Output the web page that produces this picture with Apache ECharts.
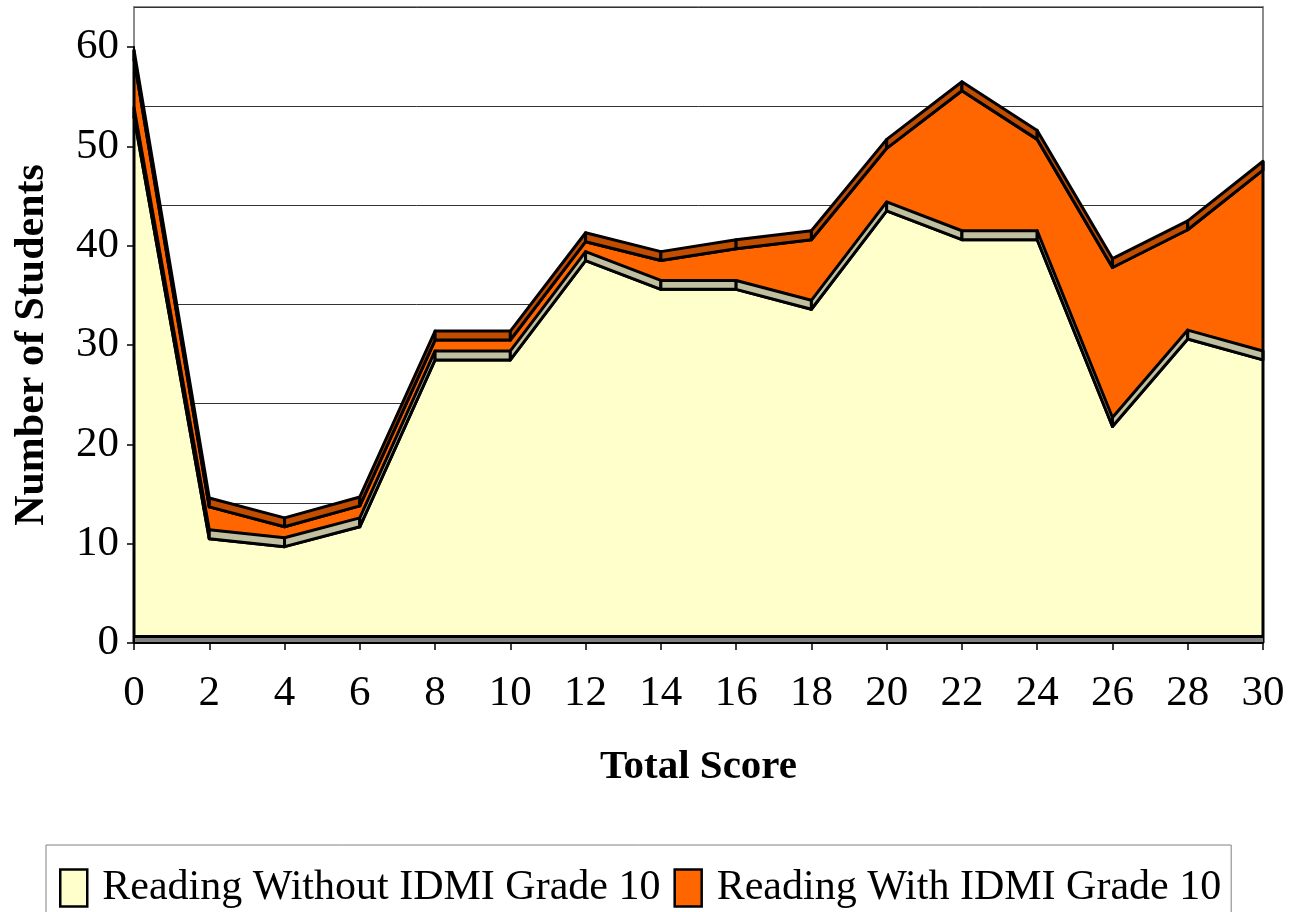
<!DOCTYPE html>
<html><head><meta charset="utf-8">
<script src="https://cdn.jsdelivr.net/npm/echarts@6/dist/echarts.min.js"></script>
<style>html,body{margin:0;padding:0;background:#fff}#c{width:1291px;height:912px}</style>
</head><body><div id="c"></div>
<script>
// ---- data ----
const scores = [0, 2, 4, 6, 8, 10, 12, 14, 16, 18, 20, 22, 24, 26, 28, 30];
const withoutIDMI = [53.0, 10.5, 9.7, 11.7, 28.5, 28.5, 38.5, 35.6, 35.6, 33.6, 43.5, 40.6, 40.6, 21.8, 30.6, 28.5];
const withIDMI = [4.9, 2.3, 1.1, 1.2, 1.1, 1.1, 1.0, 2.0, 3.2, 6.1, 5.4, 14.1, 9.2, 15.1, 10.1, 18.2];
const yTicks = [0, 10, 20, 30, 40, 50, 60];
const xTicks = [0, 2, 4, 6, 8, 10, 12, 14, 16, 18, 20, 22, 24, 26, 28, 30];
const seriesNames = ['Reading Without IDMI Grade 10', 'Reading With IDMI Grade 10'];

// ---- styling constants (3D look) ----
const DEPTH = 0.9;   // thickness of the top surface band
const FLOOR = 0.7;   // floor thickness
const FONT = "'Liberation Serif', 'Times New Roman', Times, serif";
const C_YELLOW = '#FFFFCC', C_TAN = '#C0C0A0', C_ORANGE = '#FF6600', C_DARK = '#C04D00';

const chart = echarts.init(document.getElementById('c'), null, {renderer: 'canvas'});
const n = scores.length;
const yellowData = scores.map((s, i) => [s, withoutIDMI[i]]);
const orangeData = scores.map((s, i) => [s, withoutIDMI[i] + DEPTH + withIDMI[i]]);

function renderBands(params, api) {
  const i = params.dataIndex;
  const children = [];
  const lineStyle = {stroke: '#000', lineWidth: 3, lineJoin: 'round'};
  const top = k => withoutIDMI[k] + DEPTH + withIDMI[k];
  if (i < n - 1) {
    const a = scores[i], b = scores[i + 1];
    children.push({type: 'polygon', shape: {points: [
      api.coord([a, withoutIDMI[i]]), api.coord([b, withoutIDMI[i + 1]]),
      api.coord([b, withoutIDMI[i + 1] + DEPTH]), api.coord([a, withoutIDMI[i] + DEPTH])]},
      style: Object.assign({fill: C_TAN}, lineStyle)});
    children.push({type: 'polygon', shape: {points: [
      api.coord([a, top(i)]), api.coord([b, top(i + 1)]),
      api.coord([b, top(i + 1) + DEPTH]), api.coord([a, top(i) + DEPTH])]},
      style: Object.assign({fill: C_DARK}, lineStyle)});
  }
  if (i === 0 || i === n - 1) {
    const p0 = api.coord([scores[i], 0]);
    const p1 = api.coord([scores[i], top(i) + DEPTH]);
    children.push({type: 'line', shape: {x1: p0[0], y1: p0[1], x2: p1[0], y2: p1[1]},
      style: {stroke: '#000', lineWidth: 3}});
  }
  return {type: 'group', children: children};
}

const labelStyle = {fontFamily: FONT, fontSize: 43, color: '#000'};

chart.setOption({
  animation: false,
  backgroundColor: '#fff',
  grid: [
    {left: 134, right: 28, top: 47, bottom: 269},
    {left: 134, right: 28, top: 7, bottom: 310, show: true, borderColor: '#8c8c8c', borderWidth: 2, backgroundColor: 'transparent', z: 0}
  ],
  xAxis: [
    {type: 'value', gridIndex: 0, min: 0, max: 30, interval: 2,
     name: 'Total Score', nameLocation: 'middle', nameGap: 104,
     nameTextStyle: {fontFamily: FONT, fontSize: 41, fontWeight: 'bold', color: '#000'},
     axisLine: {show: true, onZero: false, lineStyle: {color: '#000', width: 2}},
     axisTick: {show: true, length: 7, lineStyle: {color: '#000', width: 1.5}},
     axisLabel: Object.assign({margin: 29, customValues: xTicks}, labelStyle),
     splitLine: {show: false}, z: 6},
    {type: 'value', gridIndex: 1, min: 0, max: 30, show: false}
  ],
  yAxis: [
    {type: 'value', gridIndex: 0, min: 0, max: 60, interval: 10,
     name: 'Number of Students', nameLocation: 'middle', nameGap: 81, nameRotate: 90,
     nameTextStyle: {fontFamily: FONT, fontSize: 42, fontWeight: 'bold', color: '#000'},
     axisLine: {show: true, lineStyle: {color: '#000', width: 2}},
     axisTick: {show: true, length: 7, lineStyle: {color: '#000', width: 1.5}},
     axisLabel: Object.assign({margin: 15, customValues: yTicks}, labelStyle),
     splitLine: {show: false}, z: 6},
    {type: 'value', gridIndex: 1, min: 0, max: 60, interval: 10,
     axisLine: {show: false}, axisTick: {show: false}, axisLabel: {show: false},
     splitLine: {show: true, lineStyle: {color: '#333', width: 1}}}
  ],
  legend: {
    left: 46, top: 845, padding: [22, 10, 30, 13],
    borderColor: '#808080', borderWidth: 1, backgroundColor: '#fff',
    itemWidth: 27, itemHeight: 37, itemGap: 13,
    textStyle: {fontFamily: FONT, fontSize: 42, color: '#000', padding: [0, 0, 0, 10]},
    data: [
      {name: seriesNames[0], icon: 'rect', itemStyle: {color: C_YELLOW, borderColor: '#000', borderWidth: 2.5}},
      {name: seriesNames[1], icon: 'rect', itemStyle: {color: C_ORANGE, borderColor: '#000', borderWidth: 2.5}}
    ]
  },
  series: [
    {name: seriesNames[1], type: 'line', xAxisIndex: 0, yAxisIndex: 0, data: orangeData,
     showSymbol: false, symbol: 'none', z: 2,
     itemStyle: {color: C_ORANGE},
     lineStyle: {color: '#000', width: 3, join: 'round'},
     areaStyle: {color: C_ORANGE, opacity: 1}},
    {name: seriesNames[0], type: 'line', xAxisIndex: 0, yAxisIndex: 0, data: yellowData,
     showSymbol: false, symbol: 'none', z: 3,
     itemStyle: {color: C_YELLOW},
     lineStyle: {color: '#000', width: 3, join: 'round'},
     areaStyle: {color: C_YELLOW, opacity: 1},
     markArea: {silent: true, z: 5, itemStyle: {color: '#808080'},
       data: [[{yAxis: 0}, {yAxis: FLOOR}]]},
     markLine: {silent: true, z: 5, symbol: 'none', label: {show: false},
       lineStyle: {color: '#000', width: 3, type: 'solid'},
       data: [{yAxis: FLOOR}]}},
    {name: 'depth', type: 'custom', xAxisIndex: 0, yAxisIndex: 0, z: 4,
     data: scores.map((s, i) => [s, withoutIDMI[i]]),
     renderItem: renderBands, silent: true}
  ]
});
</script>
</body></html>
